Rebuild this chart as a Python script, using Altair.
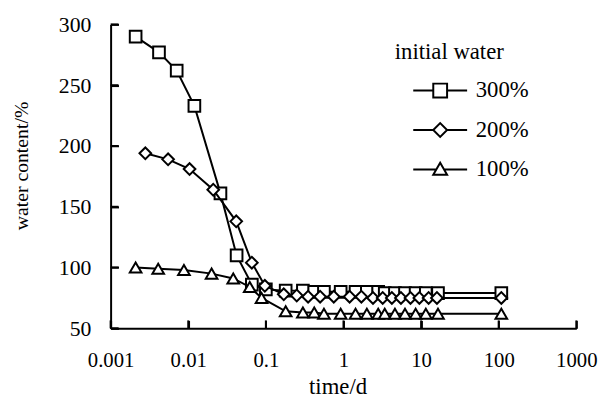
import altair as alt
import pandas as pd

# ---- data ----
series = ["300%", "200%", "100%"]
marker_shapes = ["square", "diamond", "triangle-up"]

t_300 = [0.0021, 0.0042, 0.0071, 0.012, 0.026, 0.042, 0.066, 0.1, 0.18, 0.3, 0.42, 0.56,
         0.92, 1.43, 2.0, 2.8, 3.4, 4.6, 6.2, 8.5, 11.5, 16.5, 108]
w_300 = [290, 277, 262, 233, 161, 110, 86, 82, 81, 81, 80, 80,
         80, 80, 80, 80, 79, 79, 79, 79, 79, 79, 79]

t_200 = [0.0028, 0.0055, 0.0104, 0.021, 0.0415, 0.066, 0.097, 0.17, 0.25, 0.35, 0.5, 0.75,
         1.2, 1.7, 2.4, 3.2, 4.2, 5.5, 7.3, 9.5, 12.5, 16, 108]
w_200 = [194, 189, 181, 164, 138, 104, 85, 78, 77, 76, 76, 76,
         76, 76, 75, 75, 75, 75, 75, 75, 75, 75, 75]

t_100 = [0.0021, 0.0041, 0.0088, 0.02, 0.038, 0.062, 0.088, 0.18, 0.3, 0.42, 0.56,
         0.92, 1.43, 2.0, 2.8, 3.4, 4.6, 6.2, 8.5, 11.5, 16.5, 108]
w_100 = [100, 99, 98, 95, 91, 84, 75, 64, 63, 63, 62,
         62, 62, 62, 62, 62, 62, 62, 62, 62, 62, 62]

x_ticks = [0.001, 0.01, 0.1, 1, 10, 100, 1000]
y_ticks = [50, 100, 150, 200, 250, 300]

# legend symbols: a line with the marker in the middle (unit box -1..1)
legend_paths = [
    "M -1.95 0 L -0.5 0 M 0.5 0 L 1.95 0 M -0.5 -0.5 L 0.5 -0.5 L 0.5 0.5 L -0.5 0.5 Z",
    "M -1.95 0 L -0.5 0 M 0.5 0 L 1.95 0 M -0.5 0 L 0 -0.5 L 0.5 0 L 0 0.5 Z",
    "M -1.95 0 L -0.28 0 M 0.28 0 L 1.95 0 M 0 -0.48 L 0.5 0.38 L -0.5 0.38 Z",
]

rows = []
for name, ts, ws in zip(series, [t_300, t_200, t_100], [w_300, w_200, w_100]):
    for i, (t, w) in enumerate(zip(ts, ws)):
        rows.append({"series": name, "t": t, "w": w, "i": i})
df = pd.DataFrame(rows)

FONT = "Liberation Serif"
W, H = 472, 308
INWARD = {"expr": "-8"}
TICK_PX = 8

X_MIN, X_MAX = 0.001, 1000
Y_MIN, Y_MAX = 50, 300
x_scale = alt.Scale(type="log", domain=[X_MIN, X_MAX], nice=False)
y_scale = alt.Scale(domain=[Y_MIN, Y_MAX], nice=False, zero=False)

# tick ends expressed in data units (8 px into the plot)
y_tick_end = Y_MIN + TICK_PX * (Y_MAX - Y_MIN) / H
x_tick_end = X_MIN * (X_MAX / X_MIN) ** (TICK_PX / W)

x_enc = alt.X(
    "t:Q", scale=x_scale,
    axis=alt.Axis(values=x_ticks, format="~g", title="time/d", labelFlush=False,
                  labelBaseline="alphabetic", labelPadding=47, labelFontSize=21,
                  grid=False, ticks=True, tickSize=INWARD, tickWidth=2, tickColor="black",
                  titleFontSize=23,
                  titleX=230, titleY=66, titleBaseline="alphabetic", titleAlign="center"),
)
y_enc = alt.Y(
    "w:Q", scale=y_scale,
    axis=alt.Axis(values=y_ticks, title="water content/%", labelFlush=False, grid=False,
                  ticks=True, tickSize=INWARD, tickWidth=2, tickColor="black",
                  labelPadding=28, labelFontSize=22, titleFontSize=20,
                  titleX=-84, titleY=143, titleAngle=270,
                  titleBaseline="alphabetic", titleAlign="center"),
)

base = alt.Chart(df)
layers = []
for name, shp in zip(series, marker_shapes):
    sub = base.transform_filter(alt.datum.series == name)
    layers.append(sub.mark_line(color="black", strokeWidth=2).encode(x=x_enc, y=y_enc, order="i:Q"))
    layers.append(sub.mark_point(shape=shp, size=140, filled=True, fill="white",
                                 stroke="black", strokeWidth=2, opacity=1).encode(x=x_enc, y=y_enc))

# inward tick marks as rules, both ends through the scales
x_tick_layer = alt.Chart(alt.Data(values=[{"t": v, "w": Y_MIN, "w2": y_tick_end} for v in x_ticks])).mark_rule(
    color="black", strokeWidth=2, opacity=1).encode(x=x_enc, y=y_enc, y2="w2:Q")
y_tick_layer = alt.Chart(alt.Data(values=[{"t": X_MIN, "t2": x_tick_end, "w": v} for v in y_ticks])).mark_rule(
    color="black", strokeWidth=2, opacity=1).encode(x=x_enc, x2="t2:Q", y=y_enc)

# legend-only layer: no rows drawn, the legend comes from the shape scale domain
legend_layer = base.transform_filter(alt.datum.w < 0).mark_point().encode(
    x=x_enc, y=y_enc,
    shape=alt.Shape("series:N", scale=alt.Scale(domain=series, range=legend_paths),
                    legend=alt.Legend(title="initial water", orient="none", legendX=288, legendY=17,
                                      symbolSize=784, symbolStrokeWidth=2, symbolStrokeColor="black",
                                      symbolFillColor="white", symbolOpacity=1, symbolOffset=31,
                                      labelOffset=21, rowPadding=13, titlePadding=12,
                                      labelFont=FONT, labelFontSize=23, labelColor="black",
                                      titleFont=FONT, titleFontSize=23, titleFontWeight="normal",
                                      titleColor="black")),
)

chart = alt.layer(*layers, x_tick_layer, y_tick_layer, legend_layer).properties(
    width=W, height=H,
    background="white",
    autosize=alt.AutoSizeParams(type="none"),
    padding={"left": 104, "top": 14, "right": 26, "bottom": 69},
).configure_view(stroke=None).configure_axis(
    grid=False, domainColor="black", domainWidth=2,
    labelFont=FONT, labelColor="black",
    titleFont=FONT, titleFontWeight="normal", titleColor="black",
)

chart.save("out.html", embed_options={"renderer": "svg", "actions": False})
